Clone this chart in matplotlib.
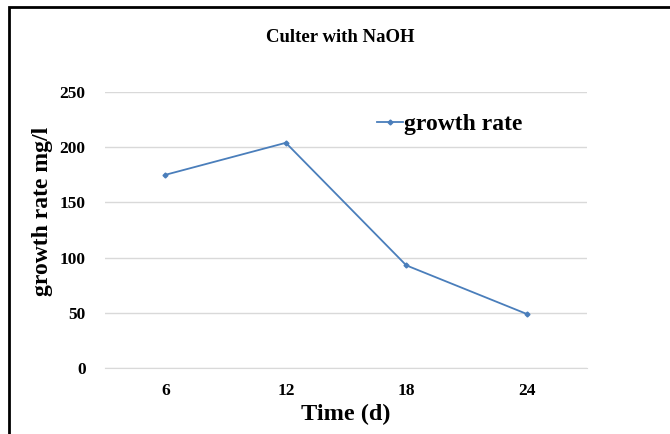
import matplotlib.pyplot as plt
from matplotlib.patches import Rectangle

days = ['6', '12', '18', '24']
growth = [175, 204, 93, 49]
yticks = [0, 50, 100, 150, 200, 250]

plt.rcParams['font.family'] = 'Liberation Serif'
plt.rcParams['font.weight'] = 'bold'

fig = plt.figure(figsize=(6.7, 4.34), dpi=100, facecolor='white')
ax = fig.add_axes([0.157, 0.152, 0.719, 0.636])

ax.plot(days, growth, color='#4A7EBB', linewidth=1.3, marker='D', markersize=2.5,
        label='growth rate')

ax.set_ylim(0, 250)
ax.set_xlim(-0.5, 3.5)
ax.set_yticks(yticks)
ax.grid(axis='y', color='#D9D9D9', linewidth=1)
ax.set_axisbelow(True)
for s in ['top', 'right', 'left']:
    ax.spines[s].set_visible(False)
ax.spines['bottom'].set_color('#D9D9D9')
ax.tick_params(axis='both', length=0, labelsize=12.5)
ax.tick_params(axis='x', pad=11)
ax.tick_params(axis='y', pad=14)
for lbl in ax.get_xticklabels() + ax.get_yticklabels():
    lbl.set_fontweight('bold')

# title centred a bit left of the axes, like the original
fig.text(340 / 670, 1 - 42 / 434, 'Culter with NaOH', fontsize=13.5,
         fontweight='bold', ha='center', va='baseline')

ax.set_xlabel('Time (d)', fontsize=17.5, fontweight='bold')
ax.xaxis.set_label_coords(346 / 670, 1 - 414 / 434, transform=fig.transFigure)
ax.xaxis.label.set_va('center')
ax.set_ylabel('growth rate mg/l', fontsize=17, fontweight='bold')
ax.yaxis.set_label_coords(43 / 670, 1 - 211 / 434, transform=fig.transFigure)
ax.yaxis.label.set_va('center')

leg = ax.legend(loc='center left', bbox_to_anchor=(377 / 670, 1 - 124 / 434),
                bbox_transform=fig.transFigure, frameon=False, borderpad=0,
                borderaxespad=0, fontsize=17, handlelength=1.1, handletextpad=0.05)
for t in leg.get_texts():
    t.set_fontweight('bold')

# outer frame (only left and top visible in the crop)
fig.patches.append(Rectangle((9 / 670, -0.1), 2.0, 1.0 - 7 / 434 + 0.1,
                             transform=fig.transFigure, fill=False,
                             edgecolor='black', linewidth=2))

fig.savefig('out.png', dpi=100)
